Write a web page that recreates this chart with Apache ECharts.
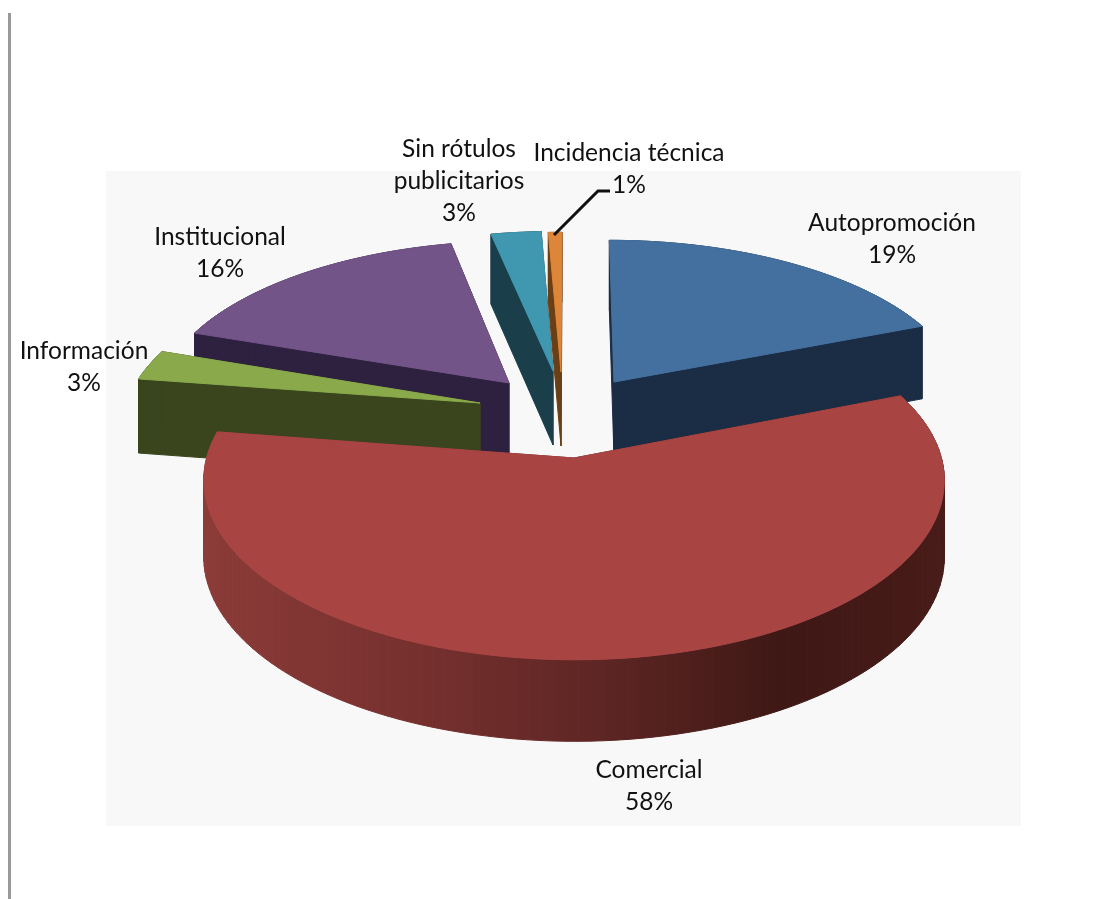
<!DOCTYPE html>
<html><head><meta charset="utf-8">
<style>html,body{margin:0;padding:0;background:#fff}#c{width:1108px;height:899px}</style>
<script src="https://cdn.jsdelivr.net/npm/echarts@6/dist/echarts.min.js"></script>
</head><body><div id="c"></div>
<script>
// Data (shares in %, clockwise from 12 o'clock)
const categories = ['Autopromoción', 'Comercial', 'Información', 'Institucional', 'Sin rótulos\npublicitarios', 'Incidencia técnica'];
const shares = [19.0, 58.4, 2.9, 16.4, 2.6, 0.7];

// Styling
const topColors = ['#44709f', '#a84543', '#8aa94a', '#735489', '#3f97b0', '#dd8538'];
const sideColors = ['#1a2d44', null, '#3a451e', '#2e2140', '#1a3f4b', '#6b3f16'];
const paintOrder = [3, 9, 5, 4, 1, 2];
const apexes = [[614, 382], [574, 458], [480, 403], [509, 383], [553, 371], [561, 372]];
const labelAnchors = [[892, 239], [649, 786], [84, 367], [220, 253], [459, 181], [629, 169]];
// Projection of the pie's plane on the screen
const view = { cx: 570, cy: 410, A: 355, B: 165, k: 0.12, depth: 75 };

const chart = echarts.init(document.getElementById('c'), null, { renderer: 'canvas' });
const total = shares.reduce((a, b) => a + b, 0);

function project(u, v) {
  const w = 1 - view.k * v;
  return { x: view.cx + view.A * u / w, y: view.cy + view.B * v / w, w };
}
function unproject(sx, sy) {
  const dy = sy - view.cy, dx = sx - view.cx;
  const v = dy / (view.B + view.k * dy);
  const w = 1 - view.k * v;
  return { u: dx * w / view.A, v };
}
const sideGradient = new echarts.graphic.LinearGradient(205, 0, 943, 0, [
  { offset: 0, color: '#8b3b38' }, { offset: 0.3, color: '#75302e' }, { offset: 0.55, color: '#5c2523' },
  { offset: 0.78, color: '#3e1815' }, { offset: 1, color: '#471b18' }
], true);

function renderSlice(params, api) {
  const i = params.dataIndex;
  const share = api.value(0);
  let before = 0;
  for (let j = 0; j < i; j++) before += shares[j];
  const t0 = before / total * 2 * Math.PI;
  const t1 = (before + share) / total * 2 * Math.PI;
  const o = unproject(apexes[i][0], apexes[i][1]);
  const pts = [project(o.u, o.v)];
  const steps = Math.max(3, Math.ceil((t1 - t0) / 0.03));
  for (let s = 0; s <= steps; s++) {
    const t = t0 + (t1 - t0) * s / steps;
    pts.push(project(o.u + Math.sin(t), o.v - Math.cos(t)));
  }
  const z = paintOrder[i] * 10;
  const sideFill = sideColors[i] || sideGradient;
  const drop = p => view.depth / Math.sqrt(p.w);
  const children = [];
  for (let s = 0; s < pts.length; s++) {
    const a = pts[s], b = pts[(s + 1) % pts.length];
    children.push({
      type: 'polygon', z2: z,
      shape: { points: [[a.x, a.y], [b.x, b.y], [b.x, b.y + drop(b)], [a.x, a.y + drop(a)]] },
      style: { fill: sideFill, stroke: sideFill, lineWidth: 1 }
    });
  }
  children.push({
    type: 'polygon', z2: z + 1,
    shape: { points: pts.map(p => [p.x, p.y]) },
    style: { fill: topColors[i], stroke: topColors[i], lineWidth: 1 }
  });
  children.push({
    type: 'text', z2: 200,
    x: labelAnchors[i][0], y: labelAnchors[i][1],
    style: {
      text: categories[i] + '\n' + Math.round(share) + '%',
      fill: '#111', fontFamily: 'Lato', fontSize: 24.5,
      align: 'center', verticalAlign: 'middle', lineHeight: 32
    }
  });
  return { type: 'group', children };
}

chart.setOption({
  animation: false,
  backgroundColor: '#ffffff',
  graphic: [
    { type: 'rect', z: 0, shape: { x: 8, y: 13, width: 3, height: 886 }, style: { fill: '#999999' } },
    { type: 'rect', z: 0, shape: { x: 106, y: 171, width: 915, height: 655 }, style: { fill: '#f8f8f8' } },
    { type: 'polyline', z: 10, shape: { points: [[554, 235], [598, 191], [610, 191]] }, style: { stroke: '#111', lineWidth: 3, fill: null } }
  ],
  series: [{
    type: 'custom', coordinateSystem: 'none', z: 5, silent: true, clip: false,
    data: shares.map(v => [v]),
    renderItem: renderSlice
  }]
});
</script></body></html>
